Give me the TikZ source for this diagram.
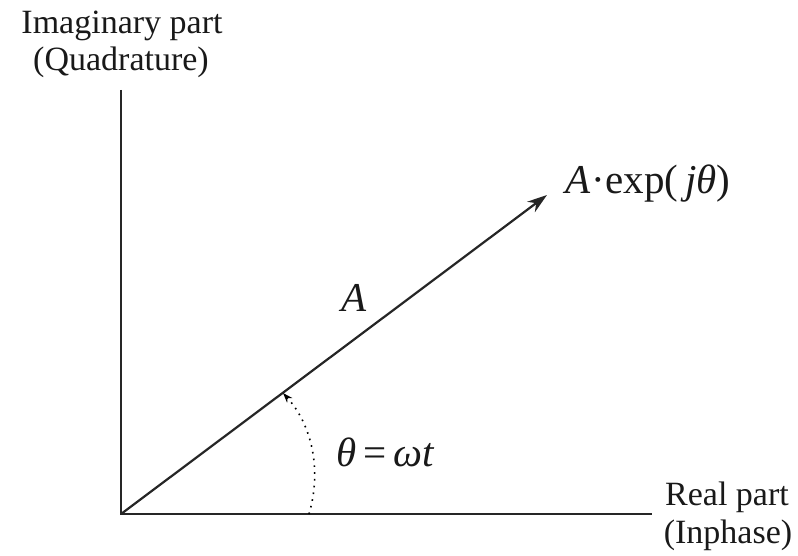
\documentclass[tikz,border=0pt]{standalone}
\usepackage{fontspec}
\setmainfont{Liberation Serif}
\usetikzlibrary{arrows.meta}
\begin{document}
\begin{tikzpicture}[x=0.5pt,y=-0.5pt,
  axis/.style={line width=0.9pt,black!85},
  lbl/.style={font=\fontsize{17}{20}\selectfont,inner sep=0pt,text=black!90},
  mlbl/.style={font=\fontsize{20.5}{24}\selectfont,inner sep=0pt,text=black!90},
  vec/.style={line width=1.1pt,black!85,-{Stealth[length=10pt,width=6.5pt]}},
  anglearc/.style={line width=0.8pt,dash pattern=on 0.8pt off 2.6pt,-{Stealth[length=5pt,width=3.5pt]}}]
\useasboundingbox (0,0) rectangle (798,556);
\coordinate (O) at (121,514);
\coordinate (Ytop) at (121,90);
\coordinate (Xend) at (652,514);
\coordinate (T) at (547,195);
\coordinate (arcS) at (309,514);
\coordinate (arcE) at (283,393);
\draw[axis] (Ytop) -- (O) -- (Xend);
\draw[vec] (O) -- (T);
\draw[anglearc] (arcS) .. controls (322,470) and (312,425) .. (arcE);
\node[lbl] (im1) at (122,26) {Imaginary part};
\node[lbl] (im2) at (121,62) {(Quadrature)};
\node[lbl] (re1) at (727,497) {Real part};
\node[lbl] (re2) at (728,535) {(Inphase)};
\node[mlbl] (tip) at (648,184) {\itshape A\upshape\kern0.5pt·exp(\,\itshape jθ\upshape)};
\node[mlbl] (mag) at (354,298) {\itshape A};
\node[mlbl] (ang) at (385,452) {\itshape θ\upshape\,=\,\itshape ωt};
\end{tikzpicture}
\end{document}
